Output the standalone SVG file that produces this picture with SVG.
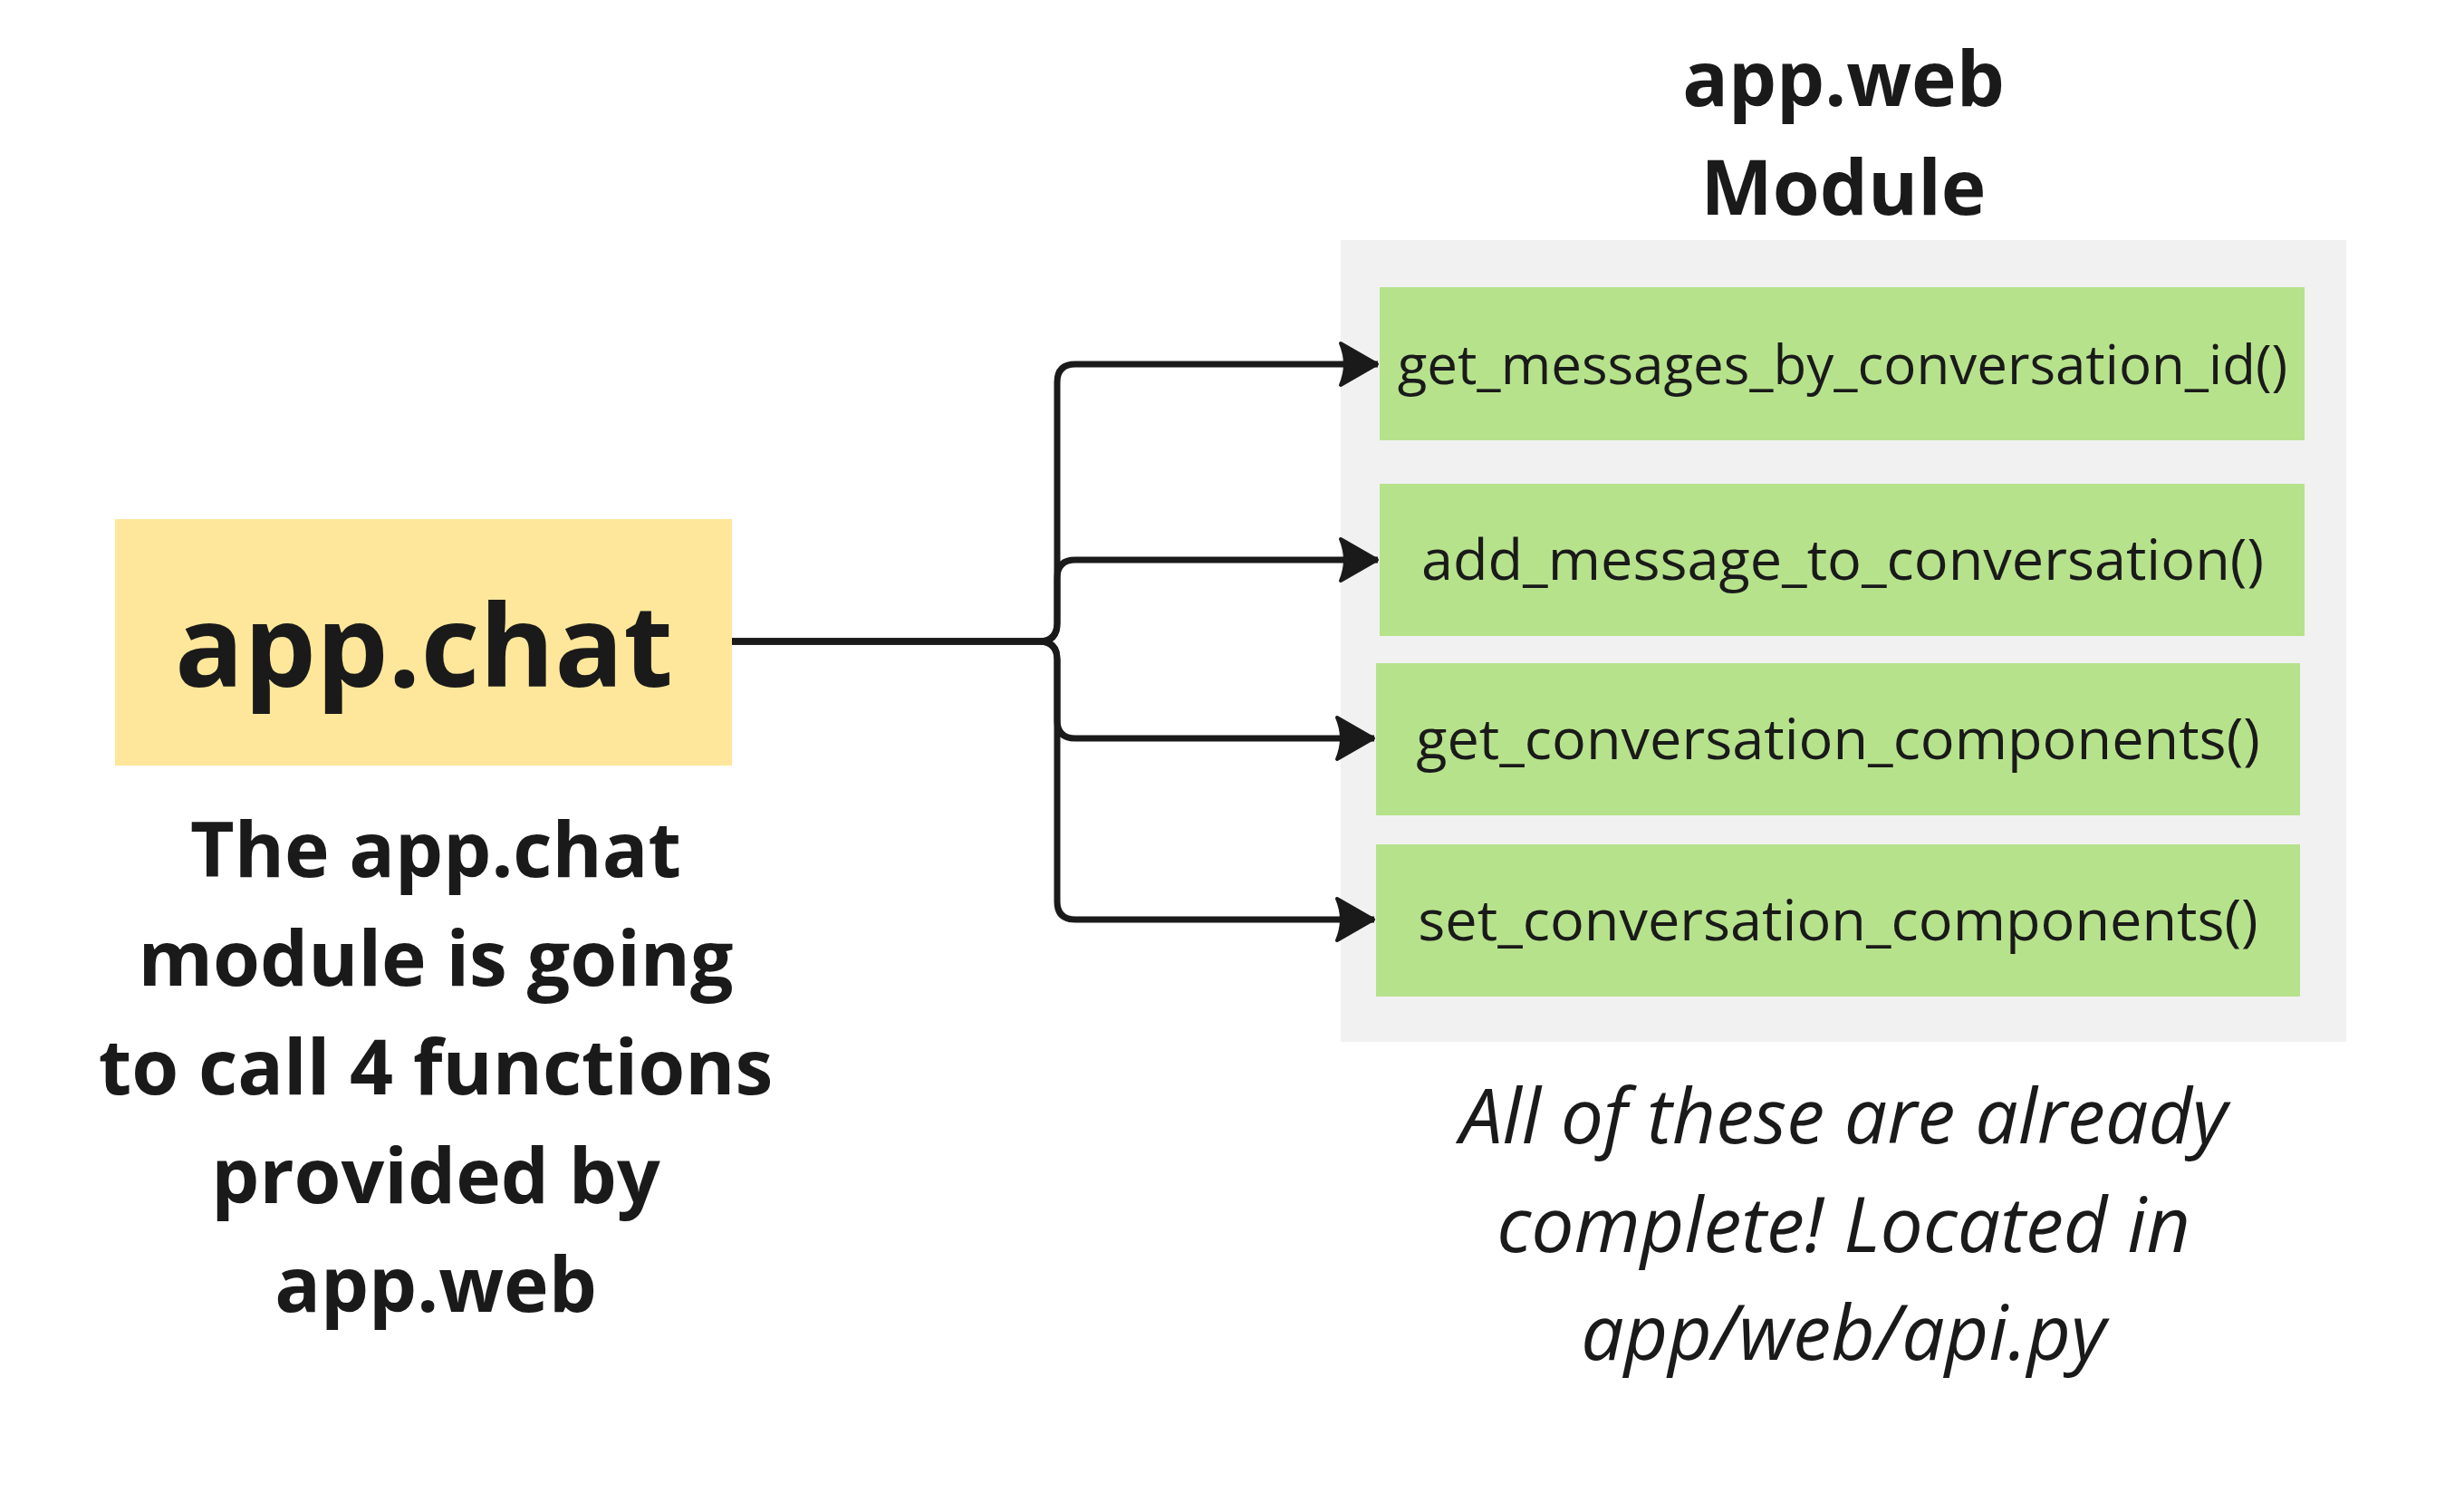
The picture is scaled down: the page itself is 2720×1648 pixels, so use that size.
<svg xmlns="http://www.w3.org/2000/svg" width="2720" height="1648" viewBox="0 0 2720 1648">
<style>
.t{font-family:"Open Sans","Noto Sans","Liberation Sans",sans-serif;fill:#1a1a1a;text-anchor:middle}
.b{font-weight:700;font-size:84px}
.fn{font-size:63px}
.it{font-style:italic;font-size:84px}
.green{fill:#b7e28c}
.conn{fill:none;stroke:#1a1a1a;stroke-width:7;stroke-linejoin:round}
</style>
<defs>
<marker id="arr" markerUnits="userSpaceOnUse" markerWidth="50" markerHeight="60" viewBox="-46 -30 50 60" refX="0" refY="0" orient="auto">
<path d="M-1,0 L-41,-23 Q-31,0 -41,23 Z" fill="#1a1a1a" stroke="#1a1a1a" stroke-width="4" stroke-linejoin="round"/>
</marker>
</defs>
<rect width="2720" height="1648" fill="#ffffff"/>
<g id="app-chat">
<rect x="127" y="573" width="681" height="272" fill="#fee79b"/>
<text class="t" x="468" y="758" font-weight="700" font-size="126">app.chat</text>
</g>
<g id="app-chat-note">
<text class="t b" x="481" y="968">The app.chat</text>
<text class="t b" x="481" y="1088">module is going</text>
<text class="t b" x="481" y="1208">to call 4 functions</text>
<text class="t b" x="481" y="1328">provided by</text>
<text class="t b" x="481" y="1448">app.web</text>
</g>
<g id="app-web-module">
<text class="t b" x="2035" y="117">app.web</text>
<text class="t b" x="2035" y="237">Module</text>
<rect x="1480" y="265" width="1110" height="885" fill="#f1f1f1"/>
</g>
<g id="fn1">
<rect class="green" x="1523" y="317" width="1021" height="169"/>
<text class="t" x="2034" y="424" font-size="60">get_messages_by_conversation_id()</text>
</g>
<g id="fn2">
<rect class="green" x="1523" y="534" width="1021" height="168"/>
<text class="t fn" x="2034" y="640">add_message_to_conversation()</text>
</g>
<g id="fn3">
<rect class="green" x="1519" y="732" width="1020" height="168"/>
<text class="t fn" x="2029" y="838">get_conversation_components()</text>
</g>
<g id="fn4">
<rect class="green" x="1519" y="932" width="1020" height="168"/>
<text class="t fn" x="2029" y="1038">set_conversation_components()</text>
</g>
<g id="web-note">
<text class="t it" x="2035" y="1262">All of these are already</text>
<text class="t it" x="2035" y="1382">complete! Located in</text>
<text class="t it" x="2035" y="1501">app/web/api.py</text>
</g>
<g id="connectors">
<path class="conn" marker-end="url(#arr)" d="M808,708 H1147 Q1167,708 1167,688 V422 Q1167,402 1187,402 H1521"/>
<path class="conn" marker-end="url(#arr)" d="M808,708 H1147 Q1167,708 1167,688 V638 Q1167,618 1187,618 H1521"/>
<path class="conn" marker-end="url(#arr)" d="M808,708 H1147 Q1167,708 1167,728 V795 Q1167,815 1187,815 H1517"/>
<path class="conn" marker-end="url(#arr)" d="M808,708 H1147 Q1167,708 1167,728 V995 Q1167,1015 1187,1015 H1517"/>
</g>
</svg>
